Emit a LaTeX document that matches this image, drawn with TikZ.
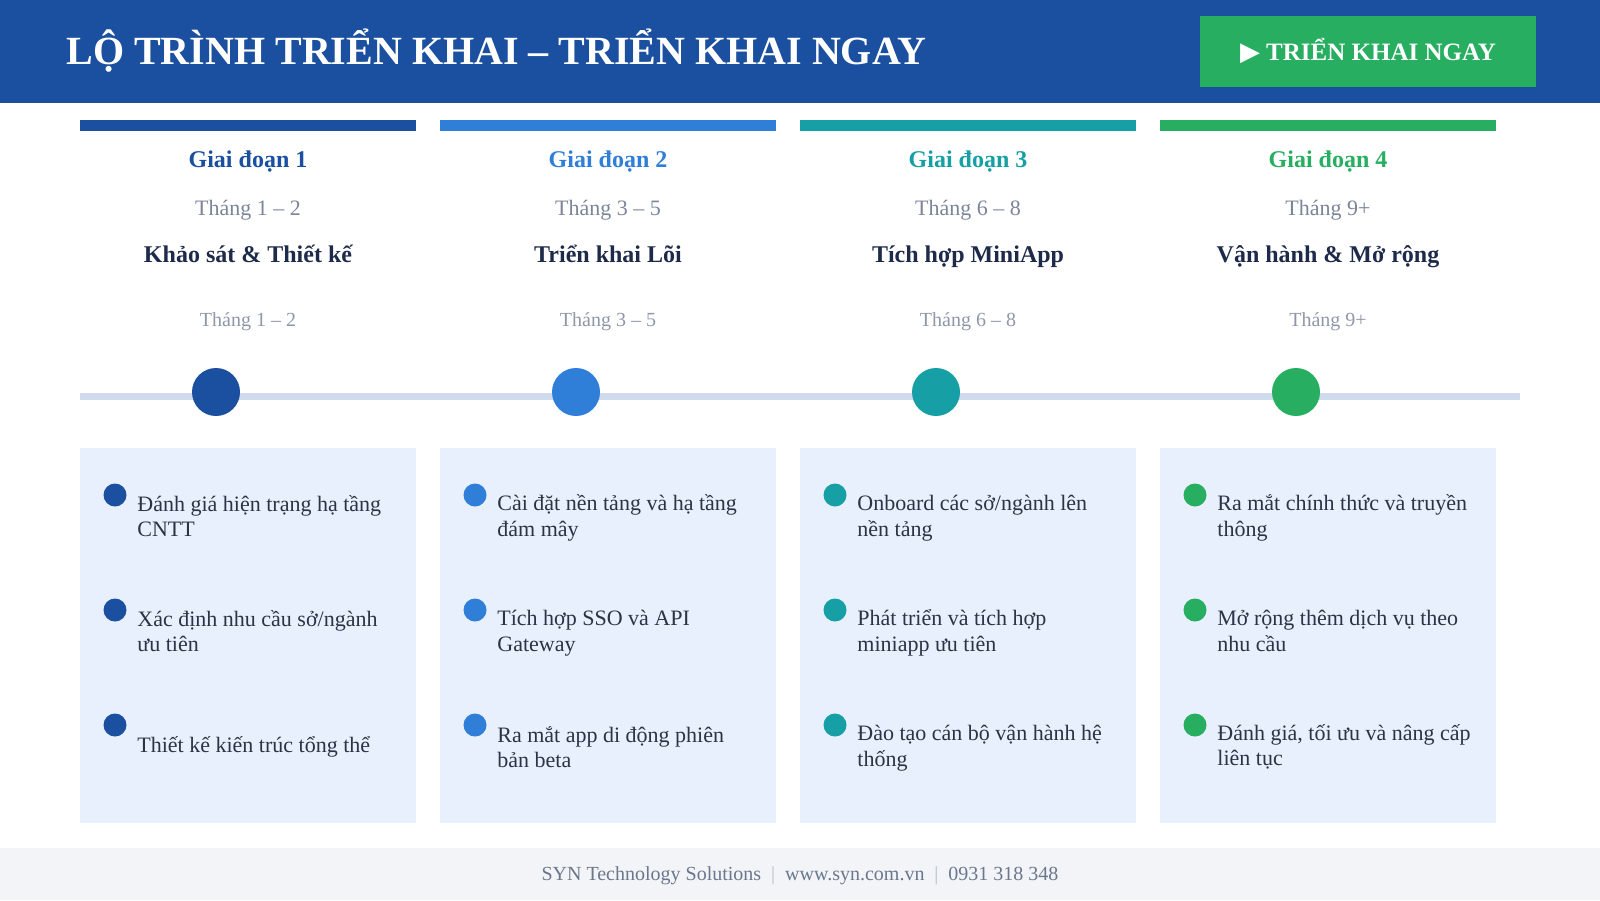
\documentclass[tikz,border=0pt]{standalone}
\usepackage{fontspec}
\setmainfont{Liberation Serif}
\newfontfamily\symfont{DejaVu Sans}
\definecolor{headblue}{HTML}{1B4F9F}
\definecolor{phaseone}{HTML}{1B4F9F}
\definecolor{phasetwo}{HTML}{2F7FD8}
\definecolor{phasethree}{HTML}{16A0A6}
\definecolor{phasefour}{HTML}{27AE60}
\definecolor{boxfill}{HTML}{E8F0FD}
\definecolor{trackgray}{HTML}{CFDCEE}
\definecolor{monthgray}{HTML}{7A8599}
\definecolor{navytext}{HTML}{1E2A4A}
\definecolor{bodytext}{HTML}{2B3445}
\definecolor{footfill}{HTML}{F2F4F8}
\definecolor{foottext}{HTML}{6B778C}
\definecolor{sepgray}{HTML}{B5BDCB}

\begin{document}
\begin{tikzpicture}[x=0.5pt,y=-0.5pt]
  \tikzset{fixed line/.style={text height=0.75em,text depth=0.25em},
    phase title/.style={fixed line,font=\fontsize{12}{14}\selectfont\bfseries,text=#1},
    month/.style={fixed line,font=\fontsize{11}{13}\selectfont,text=monthgray},
    small month/.style={fixed line,font=\fontsize{10}{12}\selectfont,text=monthgray!85},
    phase name/.style={fixed line,font=\fontsize{12}{14}\selectfont\bfseries,text=navytext},
    milestone/.style={circle,fill=#1,minimum size=24pt,inner sep=0pt},
    bullet dot/.style={circle,fill=#1,minimum size=11.5pt,inner sep=0pt},
    item/.style={anchor=west,align=left,inner sep=0pt,font=\fontsize{11}{12.75}\selectfont,text=bodytext}}

  \useasboundingbox (0,0) rectangle (1600,900);
  \fill[headblue] (0,0) rectangle (1600,103);
  \node[anchor=west,inner sep=0pt,text=white,font=\fontsize{20}{24}\selectfont\bfseries] (title) at (66,51) {LỘ TRÌNH TRIỂN KHAI – TRIỂN KHAI NGAY};
  \node[fill=phasefour,minimum width=168pt,minimum height=35.5pt,text=white,font=\fontsize{12.5}{14}\selectfont\bfseries] (button) at (1368,51) {{\symfont\fontsize{13}{14}\selectfont ▶}\hspace{3pt}TRIỂN KHAI NGAY};

  \fill[phaseone] (80,120) rectangle (416,131);
  \fill[phasetwo] (440,120) rectangle (776,131);
  \fill[phasethree] (800,120) rectangle (1136,131);
  \fill[phasefour] (1160,120) rectangle (1496,131);

  \node[phase title=phaseone] (p1) at (248,162) {Giai đoạn 1};
  \node[month] (m1) at (248,210.5) {Tháng 1 – 2};
  \node[phase name] (n1) at (248,257) {Khảo sát \& Thiết kế};
  \node[small month] (s1) at (248,321) {Tháng 1 – 2};
  \node[phase title=phasetwo] (p2) at (608,162) {Giai đoạn 2};
  \node[month] (m2) at (608,210.5) {Tháng 3 – 5};
  \node[phase name] (n2) at (608,257) {Triển khai Lõi};
  \node[small month] (s2) at (608,321) {Tháng 3 – 5};
  \node[phase title=phasethree] (p3) at (968,162) {Giai đoạn 3};
  \node[month] (m3) at (968,210.5) {Tháng 6 – 8};
  \node[phase name] (n3) at (968,257) {Tích hợp MiniApp};
  \node[small month] (s3) at (968,321) {Tháng 6 – 8};
  \node[phase title=phasefour] (p4) at (1328,162) {Giai đoạn 4};
  \node[month] (m4) at (1328,210.5) {Tháng 9+};
  \node[phase name] (n4) at (1328,257) {Vận hành \& Mở rộng};
  \node[small month] (s4) at (1328,321) {Tháng 9+};

  \coordinate (track start) at (80,396);
  \coordinate (track end) at (1520,396);
  \draw[trackgray,line width=3.5pt] (track start) -- (track end);
  \node[milestone=phaseone] (c1) at (216,392) {};
  \node[milestone=phasetwo] (c2) at (576,392) {};
  \node[milestone=phasethree] (c3) at (936,392) {};
  \node[milestone=phasefour] (c4) at (1296,392) {};

  \fill[boxfill] (80,448) rectangle (416,823);
  \fill[boxfill] (440,448) rectangle (776,823);
  \fill[boxfill] (800,448) rectangle (1136,823);
  \fill[boxfill] (1160,448) rectangle (1496,823);

  \node[bullet dot=phaseone] (d11) at (115,495) {};
  \node[item] (t11) at (137,516) {Đánh giá hiện trạng hạ tầng\\CNTT};
  \node[bullet dot=phaseone] (d12) at (115,610) {};
  \node[item] (t12) at (137,631) {Xác định nhu cầu sở/ngành\\ưu tiên};
  \node[bullet dot=phaseone] (d13) at (115,725) {};
  \node[item] (t13) at (137,747) {Thiết kế kiến trúc tổng thể};

  \node[bullet dot=phasetwo] (d21) at (475,495) {};
  \node[item] (t21) at (497,518) {Cài đặt nền tảng và hạ tầng\\đám mây};
  \node[bullet dot=phasetwo] (d22) at (475,610) {};
  \node[item] (t22) at (497,633) {Tích hợp SSO và API\\Gateway};
  \node[bullet dot=phasetwo] (d23) at (475,725) {};
  \node[item] (t23) at (497,747) {Ra mắt app di động phiên\\bản beta};

  \node[bullet dot=phasethree] (d31) at (835,495) {};
  \node[item] (t31) at (857,518) {Onboard các sở/ngành lên\\nền tảng};
  \node[bullet dot=phasethree] (d32) at (835,610) {};
  \node[item] (t32) at (857,633) {Phát triển và tích hợp\\miniapp ưu tiên};
  \node[bullet dot=phasethree] (d33) at (835,725) {};
  \node[item] (t33) at (857,748) {Đào tạo cán bộ vận hành hệ\\thống};

  \node[bullet dot=phasefour] (d41) at (1195,495) {};
  \node[item] (t41) at (1217,518) {Ra mắt chính thức và truyền\\thông};
  \node[bullet dot=phasefour] (d42) at (1195,610) {};
  \node[item] (t42) at (1217,631) {Mở rộng thêm dịch vụ theo\\nhu cầu};
  \node[bullet dot=phasefour] (d43) at (1195,725) {};
  \node[item] (t43) at (1217,747) {Đánh giá, tối ưu và nâng cấp\\liên tục};

  \fill[footfill] (0,848) rectangle (1600,900);
  \node[font=\fontsize{10}{12}\selectfont,text=foottext] (footer) at (800,876) {SYN Technology Solutions\hspace{5pt}{\color{sepgray}|}\hspace{5pt}www.syn.com.vn\hspace{5pt}{\color{sepgray}|}\hspace{5pt}0931 318 348};
\end{tikzpicture}
\end{document}
